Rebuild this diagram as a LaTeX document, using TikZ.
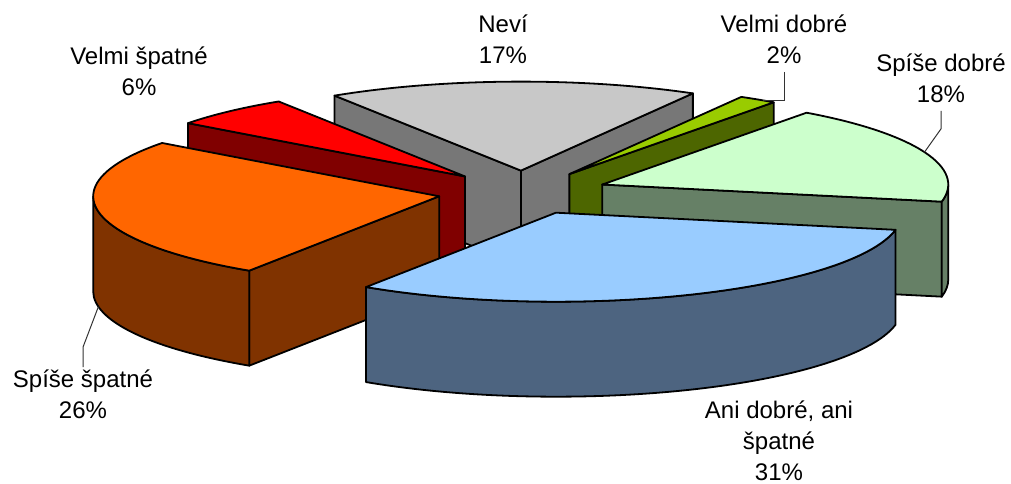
\documentclass[tikz,border=0pt]{standalone}
\usepackage{fontspec}
\setmainfont{Liberation Sans}
\usetikzlibrary{calc}
\definecolor{greyTop}{HTML}{C8C8C8}
\definecolor{greySide}{HTML}{777777}
\definecolor{redTop}{HTML}{FF0000}
\definecolor{redSide}{HTML}{800000}
\definecolor{oliveTop}{HTML}{99CC00}
\definecolor{oliveSide}{HTML}{4D6600}
\definecolor{mintTop}{HTML}{CCFFCC}
\definecolor{mintSide}{HTML}{668066}
\definecolor{orangeTop}{HTML}{FF6600}
\definecolor{orangeSide}{HTML}{803300}
\definecolor{blueTop}{HTML}{99CCFF}
\definecolor{blueSide}{HTML}{4D6480}
\tikzset{every node/.style={font=\fontsize{12}{15.5}\selectfont,align=center,inner sep=1pt}}
\tikzset{face/.style={draw,line width=0.9pt,line join=round}}
\tikzset{leader/.style={draw=black!80,line width=0.5pt}}
\newcommand{\topface}[4]{\filldraw[face,fill=#4] (#1) -- ($(#1)+(#2:346 and 89)$)
  arc[start angle=#2,end angle=#3,x radius=346,y radius=89] -- cycle;}
\newcommand{\sidewall}[3]{\filldraw[face,fill=#3] (#1) -- ($(#1)+(#2:346 and 89)$)
  -- ++(0,-95) -- ($(#1)+(0,-95)$) -- cycle;}
\newcommand{\rimwall}[4]{\filldraw[face,fill=#4] ($(#1)+(#2:346 and 89)$)
  arc[start angle=#2,end angle=#3,x radius=346,y radius=89] -- ++(0,-95)
  arc[start angle=#3,end angle=#2,x radius=346,y radius=89] -- cycle;}

\begin{document}
\begin{tikzpicture}[x=0.5pt,y=0.5pt]
  \useasboundingbox (0,0) rectangle (1011,483);
  \coordinate (C) at (523,290.5);
  \coordinate (nevi) at ($(C)+(91.4:85.1 and 21.9)$);
  \coordinate (vspatne) at ($(C)+(132.9:85.1 and 21.9)$);
  \coordinate (vdobre) at ($(C)+(57:85.1 and 21.9)$);
  \coordinate (sdobre) at ($(C)+(21.35:85.1 and 21.9)$);
  \coordinate (sspatne) at ($(C)+(189.95:85.1 and 21.9)$);
  \coordinate (ani) at ($(C)+(292.8:85.1 and 21.9)$);

  \sidewall{nevi}{60.2}{greySide}
  \sidewall{nevi}{122.6}{greySide}
  \topface{nevi}{60.2}{122.6}{greyTop}

  \sidewall{vspatne}{143.2}{redSide}
  \topface{vspatne}{122.6}{143.2}{redTop}

  \sidewall{vdobre}{53.8}{oliveSide}
  \topface{vdobre}{53.8}{60.2}{oliveTop}

  \sidewall{sdobre}{-11.1}{mintSide}
  \rimwall{sdobre}{-11.1}{0}{mintSide}
  \topface{sdobre}{-11.1}{53.8}{mintTop}

  \sidewall{sspatne}{236.7}{orangeSide}
  \rimwall{sspatne}{180}{236.7}{orangeSide}
  \topface{sspatne}{143.2}{236.7}{orangeTop}

  \rimwall{ani}{236.7}{348.9}{blueSide}
  \topface{ani}{236.7}{348.9}{blueTop}

  \coordinate (vdobre-rim) at ($(vdobre)+(56:346 and 89)$);
  \coordinate (sdobre-rim) at ($(sdobre)+(21.35:346 and 89)$);
  \coordinate (sspatne-rim) at ($(sspatne)+(189.95:346 and 89)+(0,-95)$);

  \node (nevi-lbl) at (503,444) {Neví\\17\%};
  \node (vspatne-lbl) at (139,412) {Velmi špatné\\6\%};
  \node (vdobre-lbl) at (784,444) {Velmi dobré\\2\%};
  \node (sdobre-lbl) at (941,405) {Spíše dobré\\18\%};
  \node (sspatne-lbl) at (83,89) {Spíše špatné\\26\%};
  \node (ani-lbl) at (779,42) {Ani dobré, ani\\špatné\\31\%};

  \draw[leader] ([yshift=-3pt]vdobre-lbl.south) |- (vdobre-rim);
  \draw[leader] ([yshift=-3pt]sdobre-lbl.south) -- ++(0,-18) -- (sdobre-rim);
  \draw[leader] (sspatne-lbl.north) -- ++(0,20) -- (sspatne-rim);
\end{tikzpicture}
\end{document}
